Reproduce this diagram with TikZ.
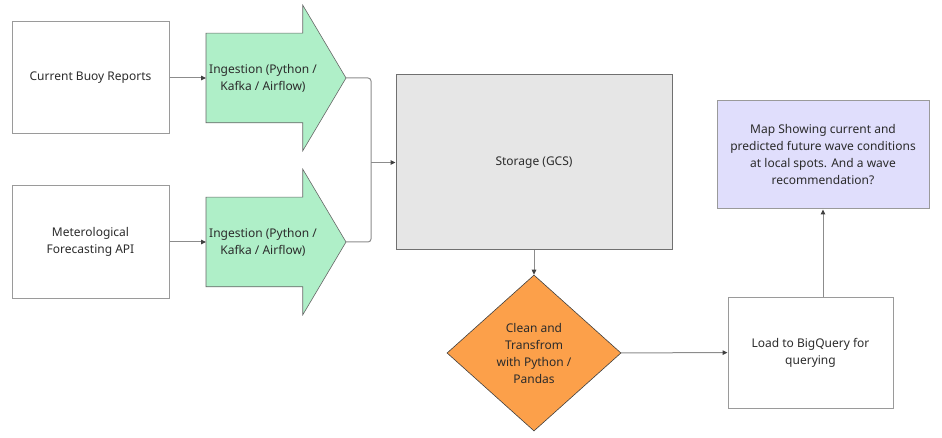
\documentclass[tikz,border=0pt]{standalone}
\usepackage{fontspec}
\setmainfont{Noto Sans}
\usetikzlibrary{shapes.geometric,shapes.arrows,arrows.meta}
\definecolor{ingestgreen}{HTML}{AFEFC8}
\definecolor{storegray}{HTML}{E6E6E6}
\definecolor{cleanorange}{HTML}{FCA04A}
\definecolor{maplilac}{HTML}{E0DEFC}
\definecolor{edgegray}{HTML}{9A9A9A}
\definecolor{linegray}{HTML}{8C8C8C}
\definecolor{tipgray}{HTML}{404040}
\definecolor{textgray}{HTML}{2B2B2B}
\tikzset{
  srcbox/.style={draw=edgegray, line width=1pt, minimum width=157pt, minimum height=112pt, align=center, inner sep=0pt},
  ingestarrow/.style={single arrow, draw=tipgray!80, fill=ingestgreen, line width=0.6pt, minimum height=140pt, inner xsep=0pt, inner ysep=44.5pt, single arrow head extend=28pt, single arrow tip angle=118.6, single arrow head indent=0pt, outer sep=0pt},
  flow/.style={draw=linegray, line width=1pt, -{Triangle[length=5pt,width=4.5pt,color=tipgray]}},
}
\begin{document}
\begin{tikzpicture}[x=1pt, y=-1pt, font=\fontsize{12}{17}\selectfont, text=textgray]
                \useasboundingbox (0, 0) rectangle (942, 438);

                \node (buoy) at (90.5, 78) [srcbox] {Current Buoy Reports};
                \node (meteo) at (90.5, 242) [srcbox] {Meterological\\Forecasting API};

                \node (ing1) at (206, 78) [ingestarrow, anchor=tail] {};
                \node (ing2) at (206, 242) [ingestarrow, anchor=tail] {};
                \node (ing1txt) at (263, 78) [align=center] {Ingestion (Python /\\Kafka / Airflow)};
                \node (ing2txt) at (263, 242) [align=center] {Ingestion (Python /\\Kafka / Airflow)};

                \node (storage) at (534, 162.5) [draw=tipgray!75, fill=storegray, line width=1pt, minimum width=276pt, minimum height=175pt] {Storage (GCS)};
                \node (clean) at (534, 353) [diamond, draw=tipgray, fill=cleanorange, line width=0.6pt, minimum width=174pt, minimum height=156pt, inner sep=0pt, align=center] {Clean and\\Transfrom\\with Python /\\Pandas};
                \node (load) at (810.5, 352.5) [draw=edgegray, line width=1pt, minimum width=165pt, minimum height=111pt, align=center] {Load to BigQuery for\\querying};
                \node (map) at (823, 155) [draw=edgegray, fill=maplilac, line width=1pt, minimum width=212pt, minimum height=108pt, align=center] {Map Showing current and\\predicted future wave conditions\\at local spots. And a wave\\recommendation?};

                \coordinate (join) at (371, 162.5);

                \draw[flow] (buoy) -- (ing1.tail);
                \draw[flow] (meteo) -- (ing2.tail);
                \draw[draw=linegray, line width=1pt, rounded corners=3pt] (ing1.tip) -| (join);
                \draw[draw=linegray, line width=1pt, rounded corners=3pt] (ing2.tip) -| (join);
                \draw[flow] (join) -- (storage.west);
                \draw[flow] (storage) -- (clean);
                \draw[flow] (clean) -- (load);
                \draw[flow] (map.south |- load.north) -- (map.south);
            \end{tikzpicture}
\end{document}
